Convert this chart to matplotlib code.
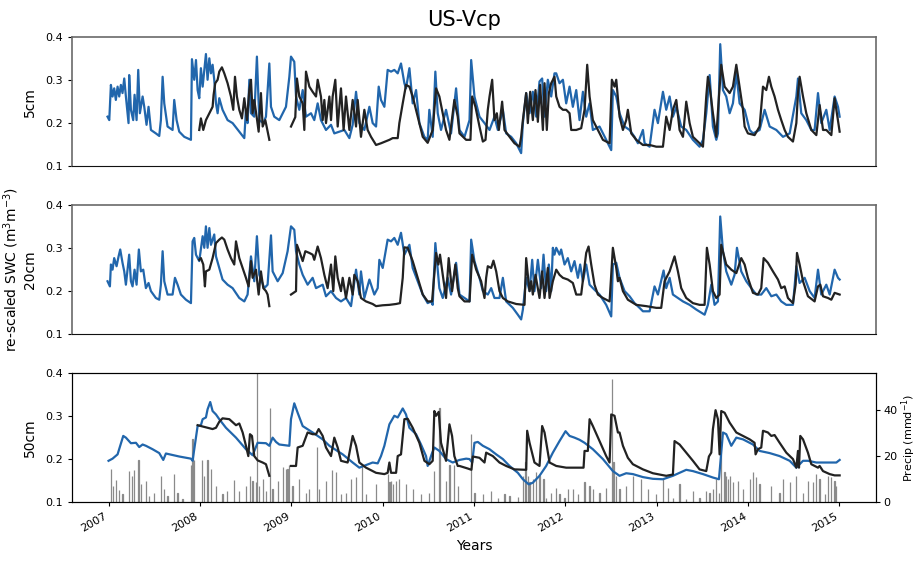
import numpy as np
import matplotlib
matplotlib.use("Agg")
import matplotlib.pyplot as plt

nan = np.nan
BLUE = "#2166ac"
BLACK = "#222222"

site = "US-Vcp"
years = list(range(2007, 2016))

# ---------------- 5 cm ----------------
t5_obs = [2006.989,2007.008,2007.026,2007.044,2007.062,2007.080,2007.099,2007.117,2007.135,2007.153,2007.172,2007.190,2007.208,2007.219,2007.226,2007.245,2007.270,2007.285,2007.307,2007.325,2007.343,2007.373,2007.391,2007.416,2007.438,2007.464,2007.518,2007.555,2007.573,2007.592,2007.610,2007.646,2007.701,2007.719,2007.745,2007.774,2007.829,2007.902,2007.913,2007.938,2007.957,2007.975,2007.993,2008.011,2008.030,2008.048,2008.066,2008.084,2008.103,2008.121,2008.139,2008.157,2008.176,2008.194,2008.212,2008.248,2008.303,2008.358,2008.431,2008.486,2008.504,2008.522,2008.541,2008.559,2008.595,2008.624,2008.650,2008.694,2008.723,2008.760,2008.778,2008.814,2008.869,2008.942,2008.979,2008.997,2009.033,2009.052,2009.088,2009.125,2009.161,2009.216,2009.252,2009.289,2009.325,2009.380,2009.435,2009.471,2009.526,2009.581,2009.636,2009.672,2009.709,2009.745,2009.800,2009.855,2009.891,2009.928,2009.957,2009.982,2010.019,2010.055,2010.092,2010.128,2010.165,2010.201,2010.238,2010.256,2010.293,2010.329,2010.366,2010.402,2010.457,2010.493,2010.511,2010.548,2010.577,2010.603,2010.639,2010.694,2010.749,2010.804,
          2010.841,2010.896,2010.951,2010.969,2011.005,2011.060,2011.115,2011.170,2011.224,2011.261,2011.316,2011.352,2011.407,2011.462,2011.516,2011.535,2011.571,2011.608,2011.644,2011.681,2011.717,2011.746,2011.772,2011.808,2011.845,2011.881,2011.900,2011.936,2011.973,2012.009,2012.046,2012.082,2012.119,2012.155,2012.192,2012.228,2012.265,2012.301,2012.374,2012.447,2012.502,2012.520,2012.557,2012.593,2012.648,2012.703,2012.757,2012.794,2012.849,2012.867,2012.922,2012.976,2013.013,2013.068,2013.104,2013.141,2013.177,2013.214,2013.268,2013.323,2013.396,2013.469,2013.506,2013.542,2013.579,2013.615,2013.652,2013.670,2013.695,2013.725,2013.761,2013.798,2013.834,2013.871,2013.907,2013.962,2014.017,2014.053,2014.126,2014.181,2014.236,2014.309,2014.382,2014.455,2014.528,2014.546,2014.582,2014.637,2014.692,2014.728,2014.765,2014.801,2014.856,2014.893,2014.947,2014.984,2015.002]
v5_obs = [0.215,0.207,0.289,0.262,0.281,0.254,0.285,0.262,0.289,0.270,0.304,0.262,0.223,0.200,0.312,0.231,0.207,0.266,0.207,0.324,0.223,0.262,0.238,0.196,0.238,0.184,0.176,0.170,0.207,0.308,0.246,0.192,0.184,0.254,0.207,0.180,0.168,0.161,0.349,0.301,0.347,0.277,0.258,0.328,0.285,0.324,0.361,0.301,0.351,0.316,0.336,0.301,0.246,0.223,0.258,0.231,0.207,0.200,0.180,0.165,0.231,0.200,0.301,0.223,0.215,0.355,0.207,0.200,0.215,0.339,0.238,0.215,0.207,0.238,0.308,0.355,0.343,0.262,0.231,0.277,0.215,0.223,0.207,0.246,0.207,0.184,0.196,0.176,0.180,0.184,0.165,0.196,0.273,0.200,0.184,0.238,0.200,0.192,0.285,0.254,0.238,0.324,0.320,0.324,0.316,0.339,0.293,0.281,0.328,0.246,0.277,0.200,0.168,0.161,0.231,0.168,0.320,0.223,0.184,0.231,0.176,0.281,
          0.184,0.168,0.207,0.347,0.262,0.215,0.200,0.184,0.215,0.184,0.231,0.176,0.168,0.153,0.130,0.200,0.270,0.223,0.273,0.215,0.297,0.304,0.215,0.301,0.262,0.316,0.316,0.293,0.301,0.246,0.285,0.238,0.277,0.207,0.273,0.215,0.246,0.184,0.192,0.161,0.137,0.277,0.262,0.223,0.192,0.184,0.168,0.153,0.184,0.153,0.145,0.231,0.200,0.273,0.231,0.262,0.215,0.238,0.192,0.184,0.161,0.145,0.161,0.223,0.312,0.192,0.161,0.176,0.384,0.277,0.262,0.223,0.246,0.316,0.246,0.231,0.184,0.176,0.184,0.231,0.192,0.184,0.168,0.176,0.262,0.304,0.223,0.207,0.184,0.184,0.270,0.200,0.231,0.184,0.262,0.238,0.215]

t5_mod = [2007.993,2008.011,2008.037,2008.066,2008.103,2008.139,2008.150,2008.168,2008.194,2008.212,2008.241,2008.267,2008.303,2008.340,2008.365,2008.384,2008.405,2008.431,2008.460,2008.486,2008.515,2008.541,2008.559,2008.577,2008.595,2008.621,2008.643,2008.668,2008.687,2008.716,2008.760,2008.880,
          2008.997,2009.044,2009.062,2009.088,2009.125,2009.143,2009.161,2009.198,2009.234,2009.271,2009.289,2009.325,2009.344,2009.362,2009.380,2009.417,2009.435,2009.453,2009.482,2009.508,2009.544,2009.573,2009.599,2009.636,2009.672,2009.709,2009.727,2009.763,2009.800,2009.836,2009.873,2009.928,2009.982,2010.074,2010.110,2010.165,2010.183,2010.220,2010.256,2010.293,2010.329,2010.384,2010.439,2010.493,2010.548,2010.585,2010.621,2010.658,2010.694,2010.731,2010.785,2010.822,
          2010.841,2010.914,2010.961,2010.980,2011.016,2011.060,2011.097,2011.126,2011.151,2011.170,2011.199,2011.224,2011.250,2011.272,2011.308,2011.334,2011.389,2011.443,2011.498,2011.516,2011.535,2011.553,2011.571,2011.589,2011.615,2011.644,2011.673,2011.699,2011.724,2011.754,2011.772,2011.797,2011.819,2011.845,2011.881,2011.900,2011.936,2011.973,2012.009,2012.046,2012.064,2012.119,2012.173,2012.210,2012.239,2012.265,2012.301,2012.356,2012.411,2012.484,2012.509,2012.538,2012.557,2012.593,2012.630,2012.666,2012.684,2012.721,2012.776,2012.849,2012.922,2012.995,2013.068,2013.104,2013.141,2013.177,2013.214,2013.250,2013.287,2013.323,2013.360,2013.396,2013.469,2013.506,2013.542,2013.560,2013.579,2013.615,2013.652,2013.681,2013.706,2013.743,2013.798,2013.834,2013.871,2013.907,2013.944,2013.962,2013.998,2014.071,2014.126,2014.163,2014.199,2014.228,2014.254,2014.290,2014.327,2014.363,2014.400,2014.436,2014.491,2014.528,2014.546,2014.564,2014.601,2014.637,2014.692,2014.747,2014.783,2014.820,2014.856,2014.911,2014.947,2014.966,2015.002]
v5_mod = [0.184,0.211,0.184,0.207,0.223,0.238,0.266,0.293,0.301,0.320,0.330,0.316,0.293,0.262,0.231,0.308,0.262,0.231,0.211,0.258,0.207,0.277,0.301,0.223,0.254,0.215,0.180,0.270,0.192,0.207,0.161,nan,
          0.192,0.214,0.304,0.262,0.246,0.184,0.320,0.285,0.273,0.262,0.301,0.262,0.207,0.254,0.200,0.262,0.207,0.262,0.301,0.192,0.281,0.184,0.262,0.184,0.254,0.192,0.254,0.168,0.231,0.184,0.168,0.149,0.153,0.161,0.165,0.165,0.200,0.246,0.289,0.285,0.262,0.215,0.168,0.154,0.184,0.281,0.262,0.223,0.184,0.161,0.254,0.215,
          0.176,0.161,0.161,0.262,0.238,0.192,0.157,0.161,0.231,0.262,0.301,0.207,0.223,0.184,0.250,0.184,0.168,0.153,0.145,0.168,0.207,0.238,0.270,0.200,0.273,0.207,0.277,0.203,0.289,0.184,0.293,0.184,0.270,0.293,0.308,0.262,0.238,0.231,0.231,0.223,0.184,0.184,0.188,0.231,0.336,0.262,0.207,0.184,0.161,0.153,0.301,0.285,0.301,0.215,0.184,0.207,0.231,0.176,0.161,0.149,0.149,0.145,0.145,0.215,0.184,0.231,0.254,0.184,0.168,0.250,0.200,0.168,0.153,0.145,0.262,0.308,0.285,0.223,0.168,0.262,0.336,0.285,0.270,0.285,0.336,0.285,0.231,0.192,0.176,0.172,0.192,0.285,0.277,0.308,0.285,0.262,0.231,0.207,0.184,0.168,0.157,0.200,0.270,0.308,0.262,0.223,0.184,0.172,0.242,0.184,0.184,0.172,0.258,0.231,0.180]

# ---------------- 20 cm ----------------
t20_obs = [2006.989,2007.015,2007.026,2007.044,2007.062,2007.088,2007.110,2007.128,2007.153,2007.172,2007.190,2007.226,2007.245,2007.263,2007.285,2007.307,2007.332,2007.354,2007.380,2007.409,2007.438,2007.464,2007.518,2007.555,2007.573,2007.592,2007.610,2007.646,2007.701,2007.727,2007.756,2007.792,2007.847,2007.902,2007.920,2007.938,2007.957,2007.993,2008.030,2008.048,2008.066,2008.084,2008.103,2008.121,2008.157,2008.176,2008.212,2008.248,2008.303,2008.358,2008.431,2008.486,2008.522,2008.559,2008.595,2008.624,2008.650,2008.705,2008.741,2008.778,2008.796,2008.851,2008.906,2008.960,2008.997,2009.033,2009.052,2009.088,2009.125,2009.179,2009.234,2009.271,2009.344,2009.380,2009.435,2009.490,2009.544,2009.599,2009.654,2009.709,2009.745,2009.763,2009.800,2009.855,2009.909,2009.946,2009.964,2010.001,2010.055,2010.092,2010.128,2010.165,2010.201,2010.238,2010.293,2010.329,2010.384,2010.439,2010.493,2010.530,2010.548,2010.577,2010.621,2010.658,2010.712,2010.749,2010.804,
           2010.841,2010.896,2010.951,2010.969,2011.005,2011.060,2011.097,2011.151,2011.188,2011.224,2011.279,2011.316,2011.352,2011.425,2011.480,2011.516,2011.535,2011.571,2011.608,2011.637,2011.662,2011.699,2011.735,2011.761,2011.790,2011.819,2011.845,2011.863,2011.881,2011.900,2011.936,2011.954,2011.991,2012.027,2012.064,2012.100,2012.137,2012.162,2012.192,2012.228,2012.265,2012.301,2012.374,2012.447,2012.502,2012.520,2012.557,2012.593,2012.648,2012.703,2012.757,2012.812,2012.849,2012.922,2012.976,2013.013,2013.075,2013.104,2013.141,2013.177,2013.232,2013.287,2013.360,2013.433,2013.524,2013.560,2013.597,2013.633,2013.670,2013.695,2013.725,2013.761,2013.816,2013.852,2013.878,2013.925,2013.980,2014.035,2014.090,2014.144,2014.199,2014.254,2014.309,2014.363,2014.418,2014.491,2014.528,2014.564,2014.619,2014.674,2014.728,2014.765,2014.801,2014.856,2014.893,2014.947,2014.984,2015.002]
v20_obs = [0.223,0.211,0.262,0.250,0.277,0.258,0.281,0.297,0.266,0.246,0.215,0.285,0.223,0.211,0.250,0.215,0.297,0.246,0.250,0.207,0.219,0.200,0.184,0.180,0.215,0.293,0.223,0.192,0.192,0.231,0.215,0.192,0.180,0.172,0.316,0.324,0.285,0.270,0.328,0.301,0.351,0.301,0.347,0.308,0.332,0.281,0.254,0.227,0.215,0.207,0.184,0.176,0.192,0.281,0.223,0.328,0.238,0.207,0.215,0.330,0.246,0.223,0.242,0.293,0.351,0.343,0.293,0.262,0.238,0.215,0.231,0.207,0.215,0.188,0.200,0.184,0.176,0.184,0.165,0.250,0.192,0.246,0.184,0.227,0.192,0.207,0.273,0.254,0.320,0.316,0.324,0.308,0.336,0.285,0.308,0.254,0.223,0.192,0.172,0.176,0.168,0.312,0.207,0.184,0.231,0.192,0.266,
           0.192,0.184,0.176,0.320,0.270,0.231,0.200,0.192,0.207,0.184,0.184,0.231,0.176,0.161,0.145,0.134,0.157,0.231,0.200,0.273,0.200,0.273,0.207,0.285,0.200,0.262,0.200,0.301,0.285,0.301,0.285,0.297,0.262,0.277,0.246,0.270,0.231,0.262,0.223,0.262,0.215,0.207,0.192,0.168,0.141,0.262,0.266,0.231,0.200,0.188,0.172,0.161,0.153,0.153,0.211,0.192,0.248,0.207,0.231,0.192,0.184,0.176,0.168,0.157,0.145,0.168,0.215,0.168,0.176,0.374,0.293,0.246,0.215,0.238,0.301,0.246,0.223,0.207,0.192,0.192,0.207,0.188,0.192,0.176,0.168,0.168,0.258,0.219,0.231,0.200,0.184,0.250,0.192,0.215,0.192,0.250,0.231,0.227]

t20_mod = [2007.993,2008.011,2008.037,2008.055,2008.066,2008.103,2008.139,2008.176,2008.212,2008.241,2008.267,2008.303,2008.340,2008.376,2008.395,2008.431,2008.468,2008.504,2008.533,2008.559,2008.577,2008.614,2008.643,2008.668,2008.694,2008.723,2008.741,2008.760,2008.880,
           2008.997,2009.052,2009.062,2009.088,2009.125,2009.154,2009.198,2009.234,2009.252,2009.289,2009.325,2009.362,2009.398,2009.435,2009.460,2009.482,2009.508,2009.544,2009.563,2009.599,2009.636,2009.672,2009.690,2009.727,2009.763,2009.818,2009.891,2009.928,2010.001,2010.074,2010.147,2010.190,2010.220,2010.238,2010.274,2010.329,2010.384,2010.439,2010.493,2010.541,2010.559,2010.585,2010.610,2010.628,2010.658,2010.694,2010.723,2010.760,2010.796,2010.822,
           2010.841,2010.896,2010.951,2010.980,2011.024,2011.078,2011.115,2011.133,2011.151,2011.188,2011.213,2011.243,2011.279,2011.316,2011.370,2011.462,2011.553,2011.571,2011.589,2011.608,2011.626,2011.644,2011.673,2011.717,2011.746,2011.772,2011.808,2011.827,2011.863,2011.900,2011.936,2011.973,2012.027,2012.082,2012.119,2012.173,2012.199,2012.228,2012.254,2012.283,2012.319,2012.356,2012.411,2012.484,2012.520,2012.557,2012.575,2012.593,2012.630,2012.684,2012.776,2012.885,2012.995,2013.049,2013.086,2013.141,2013.195,2013.232,2013.268,2013.323,2013.396,2013.469,2013.524,2013.549,2013.579,2013.615,2013.652,2013.688,2013.706,2013.761,2013.816,2013.871,2013.925,2013.962,2013.998,2014.053,2014.108,2014.144,2014.170,2014.217,2014.272,2014.327,2014.363,2014.400,2014.436,2014.491,2014.520,2014.535,2014.564,2014.601,2014.655,2014.728,2014.765,2014.790,2014.820,2014.874,2014.911,2014.947,2015.002]
v20_mod = [0.273,0.277,0.262,0.211,0.246,0.250,0.277,0.312,0.320,0.325,0.320,0.297,0.277,0.262,0.316,0.277,0.254,0.231,0.211,0.270,0.231,0.250,0.192,0.246,0.207,0.200,0.192,0.165,nan,
           0.192,0.200,0.308,0.293,0.270,0.293,0.289,0.285,0.273,0.304,0.277,0.238,0.207,0.262,0.200,0.281,0.231,0.200,0.231,0.184,0.231,0.192,0.238,0.223,0.184,0.176,0.170,0.165,0.167,0.168,0.170,0.172,0.231,0.302,0.301,0.270,0.231,0.192,0.176,0.176,0.223,0.289,0.262,0.285,0.238,0.184,0.277,0.200,0.262,0.207,
           0.188,0.176,0.176,0.285,0.250,0.223,0.184,0.231,0.258,0.254,0.271,0.246,0.200,0.184,0.176,0.170,0.168,0.277,0.238,0.200,0.223,0.192,0.238,0.184,0.246,0.184,0.254,0.184,0.223,0.250,0.238,0.231,0.227,0.219,0.192,0.192,0.238,0.289,0.304,0.262,0.215,0.192,0.184,0.176,0.301,0.254,0.223,0.231,0.200,0.180,0.168,0.165,0.161,0.161,0.223,0.246,0.281,0.246,0.207,0.184,0.172,0.168,0.168,0.301,0.262,0.200,0.184,0.192,0.308,0.262,0.250,0.242,0.277,0.262,0.231,0.196,0.192,0.207,0.277,0.266,0.246,0.227,0.207,0.211,0.184,0.172,0.215,0.289,0.262,0.223,0.188,0.176,0.211,0.215,0.188,0.184,0.180,0.196,0.192]

# ---------------- 50 cm ----------------
t50_obs = [2007.000,2007.044,2007.099,2007.161,2007.190,2007.245,2007.300,2007.336,2007.373,2007.409,2007.482,2007.555,2007.599,2007.628,2007.774,2007.902,2007.920,2007.975,2008.011,2008.030,2008.066,2008.084,2008.113,2008.139,2008.176,2008.212,2008.285,2008.395,2008.504,2008.577,2008.632,2008.723,2008.760,2008.796,2008.833,2008.869,2008.979,2008.997,2009.033,2009.070,2009.125,2009.234,2009.344,2009.417,2009.563,2009.672,2009.745,2009.818,2009.891,2009.946,2009.982,2010.019,2010.074,2010.128,2010.165,2010.220,2010.256,2010.293,2010.366,2010.420,2010.475,2010.493,2010.541,2010.566,2010.621,2010.694,2010.767,
           2010.841,2010.914,2010.951,2010.980,2011.005,2011.042,2011.097,2011.170,2011.243,2011.316,2011.389,2011.480,2011.535,2011.600,2011.644,2011.717,2011.790,2011.863,2011.936,2012.002,2012.046,2012.100,2012.155,2012.210,2012.301,2012.411,2012.520,2012.593,2012.666,2012.739,2012.849,2012.958,2013.068,2013.177,2013.323,2013.396,2013.506,2013.615,2013.681,2013.725,2013.761,2013.816,2013.871,2013.944,2014.053,2014.126,2014.236,2014.345,2014.455,2014.528,2014.601,2014.655,2014.747,2014.856,2014.966,2015.002]
v50_obs = [0.196,0.201,0.211,0.254,0.250,0.237,0.238,0.228,0.234,0.231,0.223,0.214,0.198,0.213,0.206,0.201,0.196,0.277,0.279,0.293,0.297,0.316,0.333,0.312,0.304,0.293,0.273,0.250,0.223,0.209,0.238,0.237,0.231,0.250,0.240,0.234,0.231,0.293,0.330,0.308,0.277,0.262,0.246,0.231,0.211,0.192,0.180,0.186,0.192,0.190,0.207,0.231,0.281,0.301,0.297,0.318,0.304,0.273,0.258,0.234,0.207,0.184,0.214,0.227,0.219,0.200,0.192,
           0.198,0.201,0.200,0.192,0.238,0.240,0.231,0.223,0.211,0.200,0.184,0.168,0.153,0.141,0.145,0.161,0.184,0.215,0.242,0.265,0.254,0.250,0.245,0.238,0.223,0.200,0.172,0.161,0.167,0.165,0.158,0.154,0.153,0.161,0.175,0.172,0.165,0.157,0.153,0.262,0.258,0.231,0.250,0.246,0.234,0.219,0.214,0.207,0.196,0.180,0.196,0.196,0.192,0.192,0.192,0.198]

t50_mod = [2007.975,2008.030,2008.084,2008.139,2008.176,2008.212,2008.248,2008.322,2008.395,2008.431,2008.468,2008.504,2008.530,2008.548,2008.570,2008.595,2008.632,2008.687,2008.723,2008.760,2008.880,
           2008.997,2009.052,2009.070,2009.125,2009.179,2009.234,2009.271,2009.300,2009.344,2009.380,2009.435,2009.471,2009.508,2009.544,2009.617,2009.672,2009.709,2009.745,2009.818,2009.928,2010.019,2010.055,2010.074,2010.092,2010.147,2010.165,2010.201,2010.238,2010.274,2010.329,2010.402,2010.457,2010.511,2010.548,2010.566,2010.585,2010.614,2010.639,2010.694,2010.731,2010.760,2010.785,2010.822,
           2010.841,2010.932,2010.972,2010.987,2011.060,2011.115,2011.133,2011.206,2011.279,2011.352,2011.443,2011.571,2011.582,2011.608,2011.662,2011.717,2011.746,2011.772,2011.827,2011.900,2012.009,2012.100,2012.199,2012.210,2012.246,2012.265,2012.301,2012.374,2012.447,2012.484,2012.502,2012.538,2012.575,2012.593,2012.630,2012.684,2012.739,2012.849,2012.958,2013.104,2013.177,2013.195,2013.250,2013.323,2013.396,2013.469,2013.542,2013.571,2013.597,2013.615,2013.644,2013.670,2013.688,2013.706,2013.743,2013.798,2013.871,2013.944,2014.017,2014.071,2014.082,2014.108,2014.144,2014.163,2014.217,2014.254,2014.290,2014.345,2014.418,2014.491,2014.528,2014.546,2014.557,2014.571,2014.601,2014.655,2014.692,2014.765,2014.783,2014.820,2014.893,2014.947,2015.002]
v50_mod = [0.279,0.276,0.273,0.270,0.273,0.287,0.295,0.293,0.279,0.283,0.262,0.231,0.207,0.258,0.254,0.207,0.197,0.192,0.188,0.161,nan,
           0.184,0.184,0.227,0.231,0.262,0.258,0.258,0.270,0.254,0.227,0.207,0.250,0.227,0.196,0.192,0.254,0.231,0.192,0.180,0.168,0.165,0.168,0.192,0.168,0.168,0.207,0.211,0.293,0.294,0.273,0.238,0.196,0.188,0.196,0.312,0.301,0.310,0.238,0.196,0.281,0.254,0.207,0.184,
           0.184,0.178,0.175,0.206,0.203,0.192,0.215,0.207,0.192,0.184,0.176,0.175,0.266,0.238,0.192,0.184,0.277,0.262,0.192,0.184,0.180,0.180,0.180,0.219,0.219,0.293,0.277,0.242,0.207,0.192,0.304,0.301,0.262,0.262,0.231,0.203,0.188,0.176,0.167,0.161,0.164,0.242,0.234,0.215,0.196,0.176,0.172,0.206,0.215,0.270,0.314,0.293,0.211,0.312,0.308,0.285,0.262,0.254,0.246,0.238,0.211,0.223,0.227,0.266,0.262,0.254,0.256,0.238,0.215,0.200,0.180,0.219,0.180,0.254,0.246,0.215,0.188,0.180,0.184,0.172,0.165,0.162,0.162]

# ---------------- precipitation (mm/d) ----------------
t_precip = [2007.026,2007.051,2007.080,2007.117,2007.153,2007.226,2007.256,2007.281,2007.329,2007.354,2007.409,2007.445,2007.500,2007.573,2007.610,2007.646,2007.719,2007.756,2007.811,2007.902,2007.920,2007.938,2008.022,2008.048,2008.084,2008.121,2008.176,2008.248,2008.296,2008.376,2008.431,2008.504,2008.551,2008.577,2008.614,2008.628,2008.650,2008.687,2008.723,2008.770,2008.796,2008.851,2008.906,2008.942,2008.960,2008.979,2009.015,2009.088,2009.161,2009.197,2009.278,2009.307,2009.380,2009.446,2009.490,2009.544,2009.599,2009.654,2009.709,2009.771,2009.818,2009.928,2010.055,2010.074,2010.092,2010.110,2010.147,2010.183,2010.256,2010.329,2010.420,2010.511,2010.566,2010.621,2010.694,2010.731,2010.785,2010.822,
            2010.969,2011.005,2011.097,2011.188,2011.261,2011.334,2011.389,2011.480,2011.535,2011.564,2011.589,2011.608,2011.644,2011.681,2011.717,2011.761,2011.790,2011.845,2011.900,2011.936,2011.991,2012.027,2012.082,2012.137,2012.210,2012.265,2012.301,2012.374,2012.447,2012.513,2012.527,2012.557,2012.593,2012.666,2012.739,2012.830,2012.903,2012.995,2013.068,2013.122,2013.177,2013.250,2013.323,2013.396,2013.469,2013.542,2013.579,2013.615,2013.652,2013.681,2013.706,2013.743,2013.761,2013.779,2013.798,2013.834,2013.889,2013.944,2014.017,2014.053,2014.090,2014.126,2014.254,2014.345,2014.382,2014.455,2014.528,2014.601,2014.655,2014.710,2014.747,2014.783,2014.838,2014.874,2014.911,2014.947,2014.966]
precip = [14.2,7.1,9.7,5.3,3.4,13.3,11.5,13.7,18.1,7.7,9.3,2.7,4.1,11.5,5.6,2.7,12.2,4.1,1.5,15.9,27.4,18.1,18.1,11.5,18.1,14.5,7.1,3.4,4.9,9.7,4.9,7.1,11.5,9.3,8.6,60.0,7.1,10.0,4.9,41.0,5.6,9.3,15.2,14.5,14.5,15.9,7.1,10.0,4.1,5.6,24.0,5.6,9.3,13.7,13.0,3.4,4.1,10.0,10.8,15.9,3.4,7.8,12.2,8.6,9.3,7.8,9.3,10.0,7.8,5.6,3.4,4.1,13.3,41.0,9.3,15.9,15.9,7.1,
          29.5,4.1,3.4,4.9,1.9,3.4,2.7,2.2,11.5,17.4,11.5,8.6,10.0,13.0,11.5,10.0,1.9,4.1,6.3,3.4,1.9,5.6,5.6,3.4,8.6,7.1,5.6,4.1,6.3,53.5,17.4,11.5,5.6,7.1,11.5,10.0,5.6,3.4,10.0,6.3,1.9,7.8,1.2,4.9,1.9,4.9,4.1,5.6,10.0,4.1,20.4,13.0,11.5,10.0,11.5,8.6,9.3,5.6,10.0,13.0,10.8,7.8,7.1,4.1,10.0,8.6,11.5,4.1,9.3,8.6,12.2,10.0,3.4,11.5,10.8,9.3,7.1]

# ---------------- figure ----------------
fig = plt.figure(figsize=(9.17, 5.61), dpi=100)
L, W, H = 0.0785, 0.8768, 0.2294
ax1 = fig.add_axes([L, 0.7041, W, H])
ax2 = fig.add_axes([L, 0.4046, W, H], sharex=ax1)
ax3 = fig.add_axes([L, 0.1052, W, H], sharex=ax1)

panels = [(ax1, t5_obs, v5_obs, t5_mod, v5_mod, "5cm"),
          (ax2, t20_obs, v20_obs, t20_mod, v20_mod, "re-scaled SWC (m$^3$m$^{-3}$)\n20cm"),
          (ax3, t50_obs, v50_obs, t50_mod, v50_mod, "50cm")]

for ax, to, vo, tm, vm, lab in panels:
    ax.plot(to, vo, color=BLUE, lw=1.6, zorder=3)
    ax.plot(tm, vm, color=BLACK, lw=1.6, zorder=4)
    ax.set_ylim(0.1, 0.4)
    ax.set_yticks([0.1, 0.2, 0.3, 0.4])
    ax.set_yticklabels(["0.1", "0.2", "0.3", "0.4"])
    ax.tick_params(axis="y", labelsize=8, length=3)
    ax.set_ylabel(lab, fontsize=10, labelpad=6)

for ax in (ax1, ax2):
    ax.tick_params(axis="x", bottom=False, labelbottom=False)
    for s in ("left", "top", "right"):
        ax.spines[s].set_color("#6a6a6a")
        ax.spines[s].set_linewidth(1.2)
    ax.spines["bottom"].set_color("#111111")

ax3.set_xlim(2006.6, 2015.4)
ax3.set_xticks(years)
ax3.set_xticklabels([str(y) for y in years], rotation=30, ha="right", fontsize=8)
ax3.tick_params(axis="x", length=3)
ax3.set_xlabel("Years", fontsize=10)

axp = ax3.twinx()
axp.bar(t_precip, precip, width=0.003, color="#8a8a8a", edgecolor="#8a8a8a",
        linewidth=0.9, alpha=1.0, zorder=1)
axp.set_ylim(0, 56)
axp.set_yticks([0, 20, 40])
axp.tick_params(axis="y", labelsize=8, length=3, pad=2)
axp.set_ylabel("Precip (mmd$^{-1}$)", fontsize=8, labelpad=2)
ax3.set_zorder(axp.get_zorder() + 1)
ax3.patch.set_visible(False)

fig.text(0.506, 0.965, site, ha="center", va="center", fontsize=15)

fig.savefig("out.png", dpi=100)
